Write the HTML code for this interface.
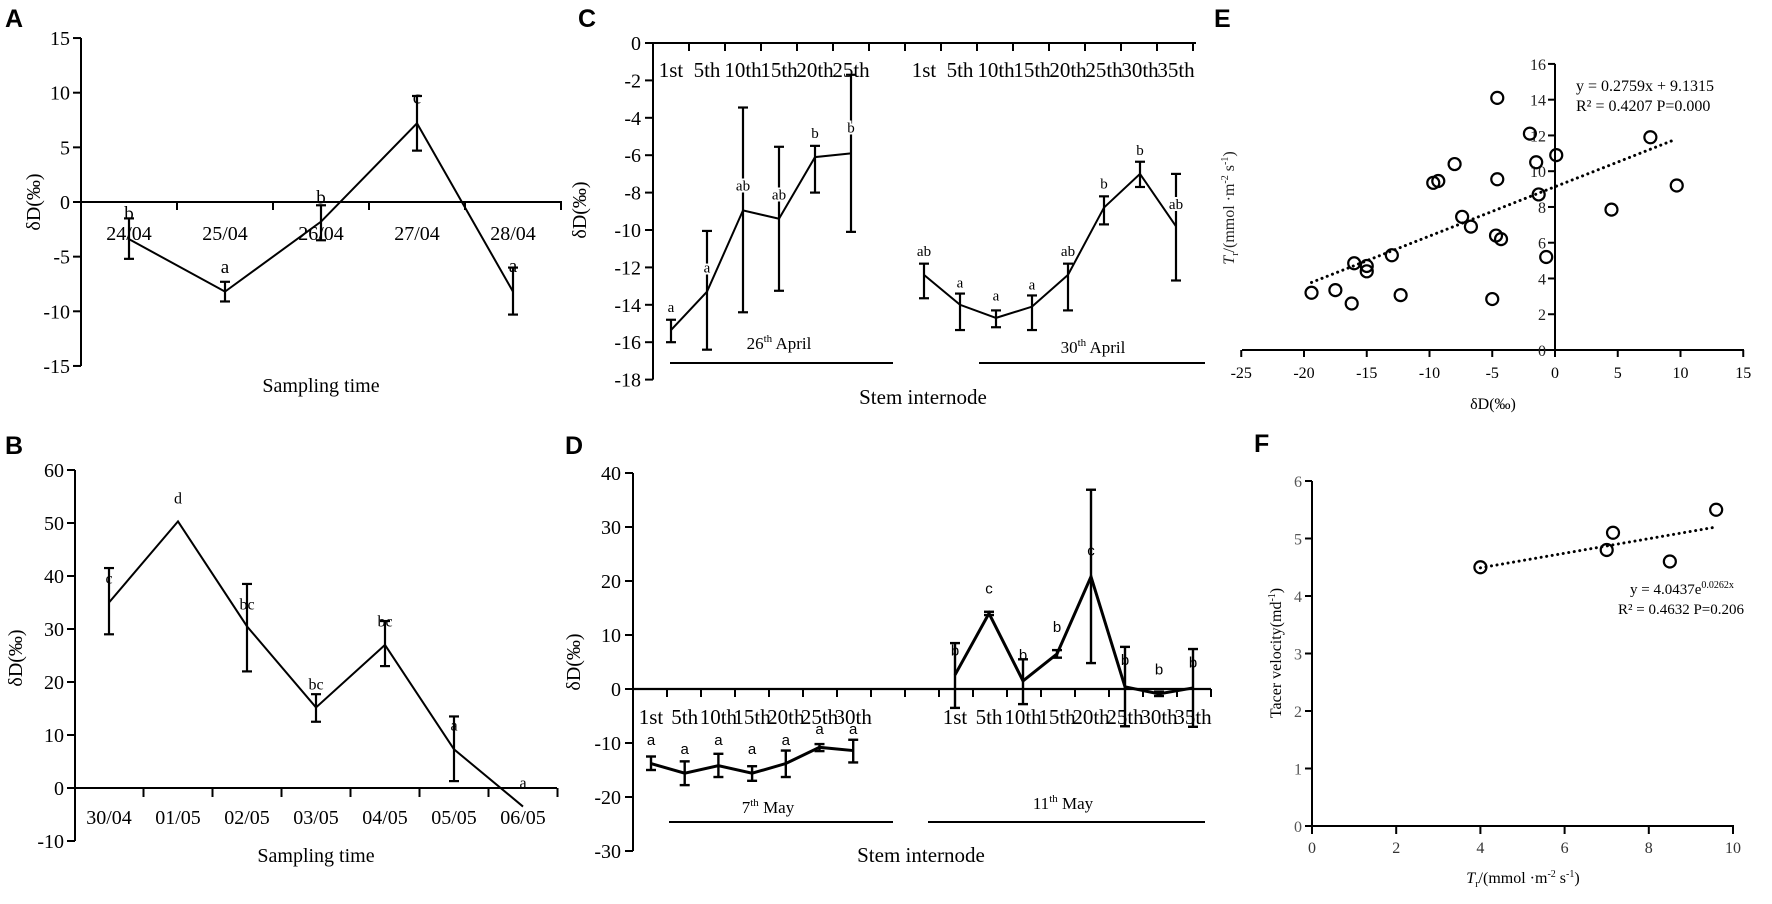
<!DOCTYPE html>
<html><head><meta charset="utf-8"><style>
html,body{margin:0;padding:0;background:#fff;}
svg{display:block;font-family:"Liberation Serif",serif;}
.pl{font-family:"Liberation Sans",sans-serif;font-weight:bold;font-size:25px;}
</style></head><body>
<svg id="fig" width="1772" height="904" viewBox="0 0 1772 904" xmlns="http://www.w3.org/2000/svg">
<text class="pl" x="5" y="27">A</text>
<text class="pl" x="5" y="454">B</text>
<text class="pl" x="578" y="27">C</text>
<text class="pl" x="565" y="454">D</text>
<text class="pl" x="1214" y="27">E</text>
<text class="pl" x="1254" y="452">F</text>

<text x="321" y="392" font-size="20" text-anchor="middle">Sampling time</text>
<text transform="translate(40,202) rotate(-90)" font-size="20" text-anchor="middle">δD(‰)</text>
<text x="316" y="862" font-size="20" text-anchor="middle">Sampling time</text>
<text transform="translate(22,658) rotate(-90)" font-size="20" text-anchor="middle">δD(‰)</text>
<text x="923" y="404" font-size="21" text-anchor="middle">Stem internode</text>
<text transform="translate(586,210) rotate(-90)" font-size="20" text-anchor="middle">δD(‰)</text>
<text x="779" y="349" font-size="17" text-anchor="middle">26<tspan font-size="11" dy="-7">th</tspan><tspan dy="7"> April</tspan></text>
<text x="1093" y="353" font-size="17" text-anchor="middle">30<tspan font-size="11" dy="-7">th</tspan><tspan dy="7"> April</tspan></text>
<text x="921" y="862" font-size="21" text-anchor="middle">Stem internode</text>
<text transform="translate(580,662) rotate(-90)" font-size="20" text-anchor="middle">δD(‰)</text>
<text x="768" y="813" font-size="17" text-anchor="middle">7<tspan font-size="11" dy="-7">th</tspan><tspan dy="7"> May</tspan></text>
<text x="1063" y="809" font-size="17" text-anchor="middle">11<tspan font-size="11" dy="-7">th</tspan><tspan dy="7"> May</tspan></text>
<text x="1493" y="409" font-size="16" text-anchor="middle">δD(‰)</text>
<text transform="translate(1234,208) rotate(-90)" font-size="16" text-anchor="middle" fill="#222"><tspan font-style="italic">T</tspan><tspan font-size="10" dy="4">r</tspan><tspan dy="-4">/(mmol ·m</tspan><tspan font-size="10" dy="-6">-2</tspan><tspan dy="6"> s</tspan><tspan font-size="10" dy="-6">-1</tspan><tspan dy="6">)</tspan></text>
<text x="1576" y="91" font-size="16">y = 0.2759x + 9.1315</text>
<text x="1576" y="111" font-size="16">R² = 0.4207  P=0.000</text>
<text x="1523" y="883" font-size="16" text-anchor="middle"><tspan font-style="italic">T</tspan><tspan font-size="10" dy="4">r</tspan><tspan dy="-4">/(mmol ·m</tspan><tspan font-size="10" dy="-6">-2</tspan><tspan dy="6"> s</tspan><tspan font-size="10" dy="-6">-1</tspan><tspan dy="6">)</tspan></text>
<text transform="translate(1281,653) rotate(-90)" font-size="16" text-anchor="middle">Tacer velocity(md<tspan font-size="10" dy="-6">-1</tspan><tspan dy="6">)</tspan></text>
<text x="1630" y="594" font-size="15">y = 4.0437e<tspan font-size="10" dy="-6">0.0262x</tspan></text>
<text x="1618" y="614" font-size="15">R² = 0.4632 P=0.206</text>
</svg>
<script>
// ---------- Panel A data ----------
const aCats = ["24/04","25/04","26/04","27/04","28/04"];
const aVals = [-3.4,-8.2,-1.8,7.2,-8.2];
const aLo = [-5.2,-9.1,-3.5,4.7,-10.3];
const aHi = [-1.5,-7.3,-0.3,9.7,-6.0];
const aLetters = ["b","a","b","c","a"];
const aLetterAt = [-1.0,-5.9,0.45,9.6,-5.8];
const aTicks = [15,10,5,0,-5,-10,-15];
// ---------- Panel B data ----------
const bCats = ["30/04","01/05","02/05","03/05","04/05","05/05","06/05"];
const bVals = [35,50.3,30.5,15.2,27,7.3,-3.5];
const bLo = [29,50.3,22,12.5,23,1.3,-3.5];
const bHi = [41.5,50.3,38.5,17.7,31.5,13.5,-3.5];
const bLetters = ["c","d","bc","bc","bc","a","a"];
const bLetterAt = [39.6,54.7,34.7,19.6,31.5,11.9,1.1];
const bTicks = [60,50,40,30,20,10,0,-10];
// ---------- Panel C data ----------
const cCats1 = ["1st","5th","10th","15th","20th","25th"];
const cVals1 = [-15.35,-13.3,-8.95,-9.4,-6.1,-5.9];
const cLo1 = [-16.0,-16.4,-14.4,-13.25,-8.0,-10.1];
const cHi1 = [-14.8,-10.05,-3.45,-5.55,-5.5,-1.7];
const cLet1 = ["a","a","ab","ab","b","b"];
const cLetAt1 = [-14.1,-12.0,-7.6,-8.1,-4.8,-4.5];
const cCats2 = ["1st","5th","10th","15th","20th","25th","30th","35th"];
const cVals2 = [-12.4,-14.0,-14.7,-14.1,-12.4,-8.8,-7.0,-9.8];
const cLo2 = [-13.65,-15.35,-15.2,-15.35,-14.3,-9.7,-7.7,-12.7];
const cHi2 = [-11.8,-13.4,-14.3,-13.5,-11.8,-8.2,-6.35,-7.0];
const cLet2 = ["ab","a","a","a","ab","b","b","ab"];
const cLetAt2 = [-11.1,-12.8,-13.5,-12.9,-11.1,-7.5,-5.7,-8.6];
const cTicks = [0,-2,-4,-6,-8,-10,-12,-14,-16,-18];
// ---------- Panel D data ----------
const dCats1 = ["1st","5th","10th","15th","20th","25th","30th"];
const dVals1 = [-13.8,-15.6,-14.2,-15.6,-13.8,-10.8,-11.4];
const dLo1 = [-15.0,-17.8,-16.3,-17.0,-16.3,-11.5,-13.6];
const dHi1 = [-12.5,-13.4,-12.0,-14.3,-11.4,-10.2,-9.4];
const dLet1 = ["a","a","a","a","a","a","a"];
const dLetAt1 = [-9.4,-11.1,-9.4,-11.1,-9.4,-7.4,-7.4];
const dCats2 = ["1st","5th","10th","15th","20th","25th","30th","35th"];
const dVals2 = [2.6,14.0,1.5,6.5,20.8,0.4,-0.9,0.2];
const dLo2 = [-3.5,13.7,-2.8,5.8,4.8,-6.9,-1.3,-7.0];
const dHi2 = [8.5,14.3,5.5,7.2,36.9,7.8,-0.5,7.4];
const dLet2 = ["b","c","b","b","c","b","b","b"];
const dLetAt2 = [7.2,18.7,6.3,11.5,25.7,5.4,3.7,5.0];
const dTicks = [40,30,20,10,0,-10,-20,-30];
// ---------- Panel E data ----------
const eX = [-19.4,-17.5,-16.2,-16.0,-15.0,-15.0,-13.0,-12.3,-9.7,-9.3,-8.0,-7.4,-6.7,-5.0,-4.7,-4.3,-4.6,-4.6,-2.0,-1.5,-1.3,-0.7,0.1,4.5,7.6,9.7];
const eY = [3.2,3.35,2.6,4.85,4.7,4.4,5.3,3.07,9.35,9.45,10.4,7.45,6.9,2.85,6.4,6.2,9.55,14.1,12.1,10.5,8.7,5.2,10.9,7.85,11.9,9.2];
const eXTicks = [-25,-20,-15,-10,-5,0,5,10,15];
const eYTicks = [0,2,4,6,8,10,12,14,16];
const eFit = [0.2759,9.1315];
const eFitRange = [-19.4,9.5];
// ---------- Panel F data ----------
const fX = [4.0,7.0,7.15,8.5,9.6];
const fY = [4.5,4.8,5.1,4.6,5.5];
const fXTicks = [0,2,4,6,8,10];
const fYTicks = [0,1,2,3,4,5,6];
const fFit = [4.0437,0.0262];
const fFitRange = [4.0,9.6];

const NS = "http://www.w3.org/2000/svg";
const svg = document.getElementById('fig');
function mk(tag, attrs, name){
  const el = document.createElementNS(NS, tag);
  for (const k in attrs) el.setAttribute(k, attrs[k]);
  
  
  svg.appendChild(el);
  return el;
}
function ln(x1,y1,x2,y2,w,name){ return mk('line',{x1:x1,y1:y1,x2:x2,y2:y2,stroke:'#000','stroke-width':w||2},name); }
function tx(x,y,s,size,anchor,name,extra){
  const a = {x:x,y:y,'font-size':size,'text-anchor':anchor||'middle'};
  if (extra) for (const k in extra) a[k]=extra[k];
  const el = mk('text',a,name);
  el.textContent = s;
  return el;
}
function series(xs, vals, lo, hi, letters, letAt, xf, yf, opt, prefix){
  const pts = vals.map((v,i)=>xf(i)+','+yf(v)).join(' ');
  mk('polyline',{points:pts,fill:'none',stroke:'#000','stroke-width':opt.lw,'stroke-linejoin':'miter'},prefix+'-line');
  vals.forEach((v,i)=>{
    const x = xf(i);
    if (hi[i]!==lo[i]){
      ln(x,yf(hi[i]),x,yf(lo[i]),opt.ew,prefix+'-error-bar');
      ln(x-opt.cap,yf(hi[i]),x+opt.cap,yf(hi[i]),opt.ew,prefix+'-error-cap');
      ln(x-opt.cap,yf(lo[i]),x+opt.cap,yf(lo[i]),opt.ew,prefix+'-error-cap');
    }
    const extra = {'font-family':opt.lf};
    if (opt.halo){ extra.stroke='#fff'; extra['stroke-width']=4; extra['paint-order']='stroke'; }
    tx(x, yf(letAt[i])+opt.ls*0.35, letters[i], opt.ls, 'middle', prefix+'-letter', extra);
  });
}

// ---------- Panel A ----------
const aY = v => 202 - v*10.93;
const aX = i => 129 + i*96;
ln(81,aY(15),81,aY(-15),2,'a-y-axis');
aTicks.forEach(t=>{ ln(73,aY(t),81,aY(t),2,'a-y-tick'); tx(70,aY(t)+7,String(t),20,'end','a-y-tick-label'); });
ln(80,202,562,202,2,'a-x-axis');
aCats.forEach((c,i)=>{ ln(aX(i)+48,202,aX(i)+48,210,2,'a-x-tick'); tx(aX(i),240,c,20,'middle','a-x-tick-label'); });
series(aCats,aVals,aLo,aHi,aLetters,aLetterAt,aX,aY,{lw:2,ew:2.2,cap:5,ls:19,lf:'Liberation Serif'},'a');

// ---------- Panel B ----------
const bY = v => 788 - v*5.3;
const bX = i => 109 + i*69;
ln(75,bY(60),75,bY(-10),2,'b-y-axis');
bTicks.forEach(t=>{ ln(67,bY(t),75,bY(t),2,'b-y-tick'); tx(64,bY(t)+7,String(t),20,'end','b-y-tick-label'); });
ln(74,788,557,788,2,'b-x-axis');
bCats.forEach((c,i)=>{ ln(bX(i)+34.5,788,bX(i)+34.5,797,2,'b-x-tick'); tx(bX(i),824,c,20,'middle','b-x-tick-label'); });
series(bCats,bVals,bLo,bHi,bLetters,bLetterAt,bX,bY,{lw:2,ew:2.2,cap:5,ls:16,lf:'Liberation Serif'},'b');

// ---------- Panel C ----------
const cY = v => 43 - v*18.7;
const cX1 = i => 671 + i*36;
const cX2 = i => 924 + i*36;
ln(653,cY(0)-1,653,cY(-18),2,'c-y-axis');
cTicks.forEach(t=>{ ln(645,cY(t),653,cY(t),2,'c-y-tick'); tx(641,cY(t)+7,String(t),20,'end','c-y-tick-label'); });
ln(652,43,1196,43,2,'c-x-axis');
for (let k=0;k<15;k++){ ln(689+k*36,43,689+k*36,51,2,'c-x-tick'); }
cCats1.forEach((c,i)=>tx(cX1(i),77,c,21,'middle','c-x-tick-label'));
cCats2.forEach((c,i)=>tx(cX2(i),77,c,21,'middle','c-x-tick-label'));
ln(670,363,893,363,2,'c-group-line-26-april');
ln(979,363,1205,363,2,'c-group-line-30-april');
series(cCats1,cVals1,cLo1,cHi1,cLet1,cLetAt1,cX1,cY,{lw:2,ew:2.2,cap:5,ls:15,lf:'Liberation Serif',halo:true},'c-26-april');
series(cCats2,cVals2,cLo2,cHi2,cLet2,cLetAt2,cX2,cY,{lw:2,ew:2.2,cap:5,ls:15,lf:'Liberation Serif',halo:true},'c-30-april');

// ---------- Panel D ----------
const dY = v => 689 - v*5.4;
const dX1 = i => 651 + i*33.7;
const dX2 = i => 955 + i*34;
ln(633,dY(40),633,dY(-30),2,'d-y-axis');
dTicks.forEach(t=>{ ln(625,dY(t),633,dY(t),2,'d-y-tick'); tx(621,dY(t)+7,String(t),20,'end','d-y-tick-label'); });
ln(632,689,1211,689,2.2,'d-x-axis');
for (let k=0;k<17;k++){ ln(667+k*34,689,667+k*34,697,2,'d-x-tick'); }
dCats1.forEach((c,i)=>tx(dX1(i),724,c,21,'middle','d-x-tick-label'));
dCats2.forEach((c,i)=>tx(dX2(i),724,c,21,'middle','d-x-tick-label'));
ln(669,822,893,822,2,'d-group-line-7-may');
ln(928,822,1205,822,2,'d-group-line-11-may');
series(dCats1,dVals1,dLo1,dHi1,dLet1,dLetAt1,dX1,dY,{lw:3,ew:2.4,cap:5,ls:15,lf:'Liberation Sans'},'d-7-may');
series(dCats2,dVals2,dLo2,dHi2,dLet2,dLetAt2,dX2,dY,{lw:3,ew:2.4,cap:5,ls:15,lf:'Liberation Sans'},'d-11-may');

// ---------- Panel E ----------
const eXs = v => 1555 + v*12.55;
const eYs = v => 350 - v*17.88;
ln(1242,350,1744,350,2,'e-x-axis');
eXTicks.forEach(t=>{ ln(eXs(t),350,eXs(t),357,2,'e-x-tick'); tx(eXs(t),378,String(t),16,'middle','e-x-tick-label'); });
ln(1555,eYs(16),1555,351,2,'e-y-axis');
eYTicks.forEach(t=>{ ln(1548,eYs(t),1555,eYs(t),2,'e-y-tick'); tx(1546,eYs(t)+6,String(t),16,'end','e-y-tick-label',{fill:'#222'}); });
mk('line',{x1:eXs(eFitRange[0]),y1:eYs(eFit[0]*eFitRange[0]+eFit[1]),x2:eXs(eFitRange[1]),y2:eYs(eFit[0]*eFitRange[1]+eFit[1]),stroke:'#000','stroke-width':3,'stroke-dasharray':'0.1 5.5','stroke-linecap':'round'},'e-trendline');
eX.forEach((v,i)=>{ mk('circle',{cx:eXs(v),cy:eYs(eY[i]),r:6,fill:'none',stroke:'#000','stroke-width':2.2},'e-point'); });

// ---------- Panel F ----------
const fXs = v => 1312 + v*42.1;
const fYs = v => 826 - v*57.5;
ln(1311,826,1734,826,2,'f-x-axis');
fXTicks.forEach(t=>{ ln(fXs(t),826,fXs(t),834,2,'f-x-tick'); tx(fXs(t),853,String(t),16,'middle','f-x-tick-label',{fill:'#333'}); });
ln(1312,fYs(6),1312,827,2,'f-y-axis');
fYTicks.forEach(t=>{ ln(1305,fYs(t),1312,fYs(t),2,'f-y-tick'); tx(1302,fYs(t)+6,String(t),16,'end','f-y-tick-label',{fill:'#555'}); });
mk('line',{x1:fXs(fFitRange[0]),y1:fYs(fFit[0]*Math.exp(fFit[1]*fFitRange[0])),x2:fXs(fFitRange[1]),y2:fYs(fFit[0]*Math.exp(fFit[1]*fFitRange[1])),stroke:'#000','stroke-width':3,'stroke-dasharray':'0.1 5.5','stroke-linecap':'round'},'f-trendline');
fX.forEach((v,i)=>{ mk('circle',{cx:fXs(v),cy:fYs(fY[i]),r:6,fill:'none',stroke:'#000','stroke-width':2.2},'f-point'); });
</script>
</body></html>
